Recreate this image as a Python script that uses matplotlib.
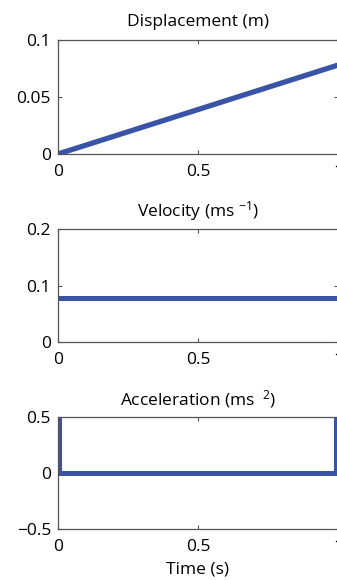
import numpy as np
import matplotlib
matplotlib.use("Agg")
import matplotlib.pyplot as plt

plt.rcParams['font.family'] = ['Open Sans', 'DejaVu Sans']
plt.rcParams['mathtext.fontset'] = 'custom'
plt.rcParams['mathtext.rm'] = 'Open Sans'
plt.rcParams['mathtext.it'] = 'Open Sans'
plt.rcParams['mathtext.default'] = 'rm'

# ---------------- data ----------------
t_disp = [0, 1]
displacement = [0, 0.078]

t_vel = [0, 1]
velocity = [0.078, 0.078]

t_acc = [0.004, 0.004, 0.993, 0.993]
acceleration = [1.0, 0, 0, 1.0]

line_col = '#3953a6'
spine_col = '#555555'
fs = 12.5

fig = plt.figure(figsize=(3.37, 5.80), dpi=100)
left = 58 / 337
width = 280 / 337

axes_spec = [
    (1 - 154 / 580, 114 / 580),
    (1 - 342 / 580, 113 / 580),
    (1 - 529 / 580, 112 / 580),
]
axs = [fig.add_axes([left, b, width, h]) for b, h in axes_spec]

axs[0].plot(t_disp, displacement, color=line_col, lw=3.8, solid_capstyle='butt')
axs[0].set_ylim(0, 0.1)
axs[0].set_yticks([0, 0.05, 0.1])
axs[0].set_yticklabels(['0', '0.05', '0.1'])
axs[0].set_title('Displacement (m)', fontsize=fs, pad=10)

axs[1].plot(t_vel, velocity, color=line_col, lw=3.6, solid_capstyle='butt')
axs[1].set_ylim(0, 0.2)
axs[1].set_yticks([0, 0.1, 0.2])
axs[1].set_yticklabels(['0', '0.1', '0.2'])
axs[1].set_title('Velocity (ms $^{-1}$)', fontsize=fs, pad=9)

axs[2].plot(t_acc, acceleration, color=line_col, lw=3.6, solid_capstyle='butt')
axs[2].set_ylim(-0.5, 0.5)
axs[2].set_yticks([-0.5, 0, 0.5])
axs[2].set_yticklabels(['\u22120.5', '0', '0.5'])
axs[2].set_title('Acceleration (ms $^{\\ 2}$)', fontsize=fs, pad=9)
axs[2].set_xlabel('Time (s)', fontsize=fs, labelpad=5)

for ax in axs:
    ax.set_xlim(0, 1)
    ax.set_xticks([0, 0.5, 1])
    ax.set_xticklabels(['0', '0.5', '1'])
    ax.tick_params(direction='in', length=3, width=0.8, labelsize=fs,
                   top=True, right=True, color=spine_col)
    ax.tick_params(axis='x', pad=7)
    ax.tick_params(axis='y', pad=5)
    for s in ax.spines.values():
        s.set_color(spine_col)
        s.set_linewidth(0.9)

plt.savefig('out.png', dpi=100)
